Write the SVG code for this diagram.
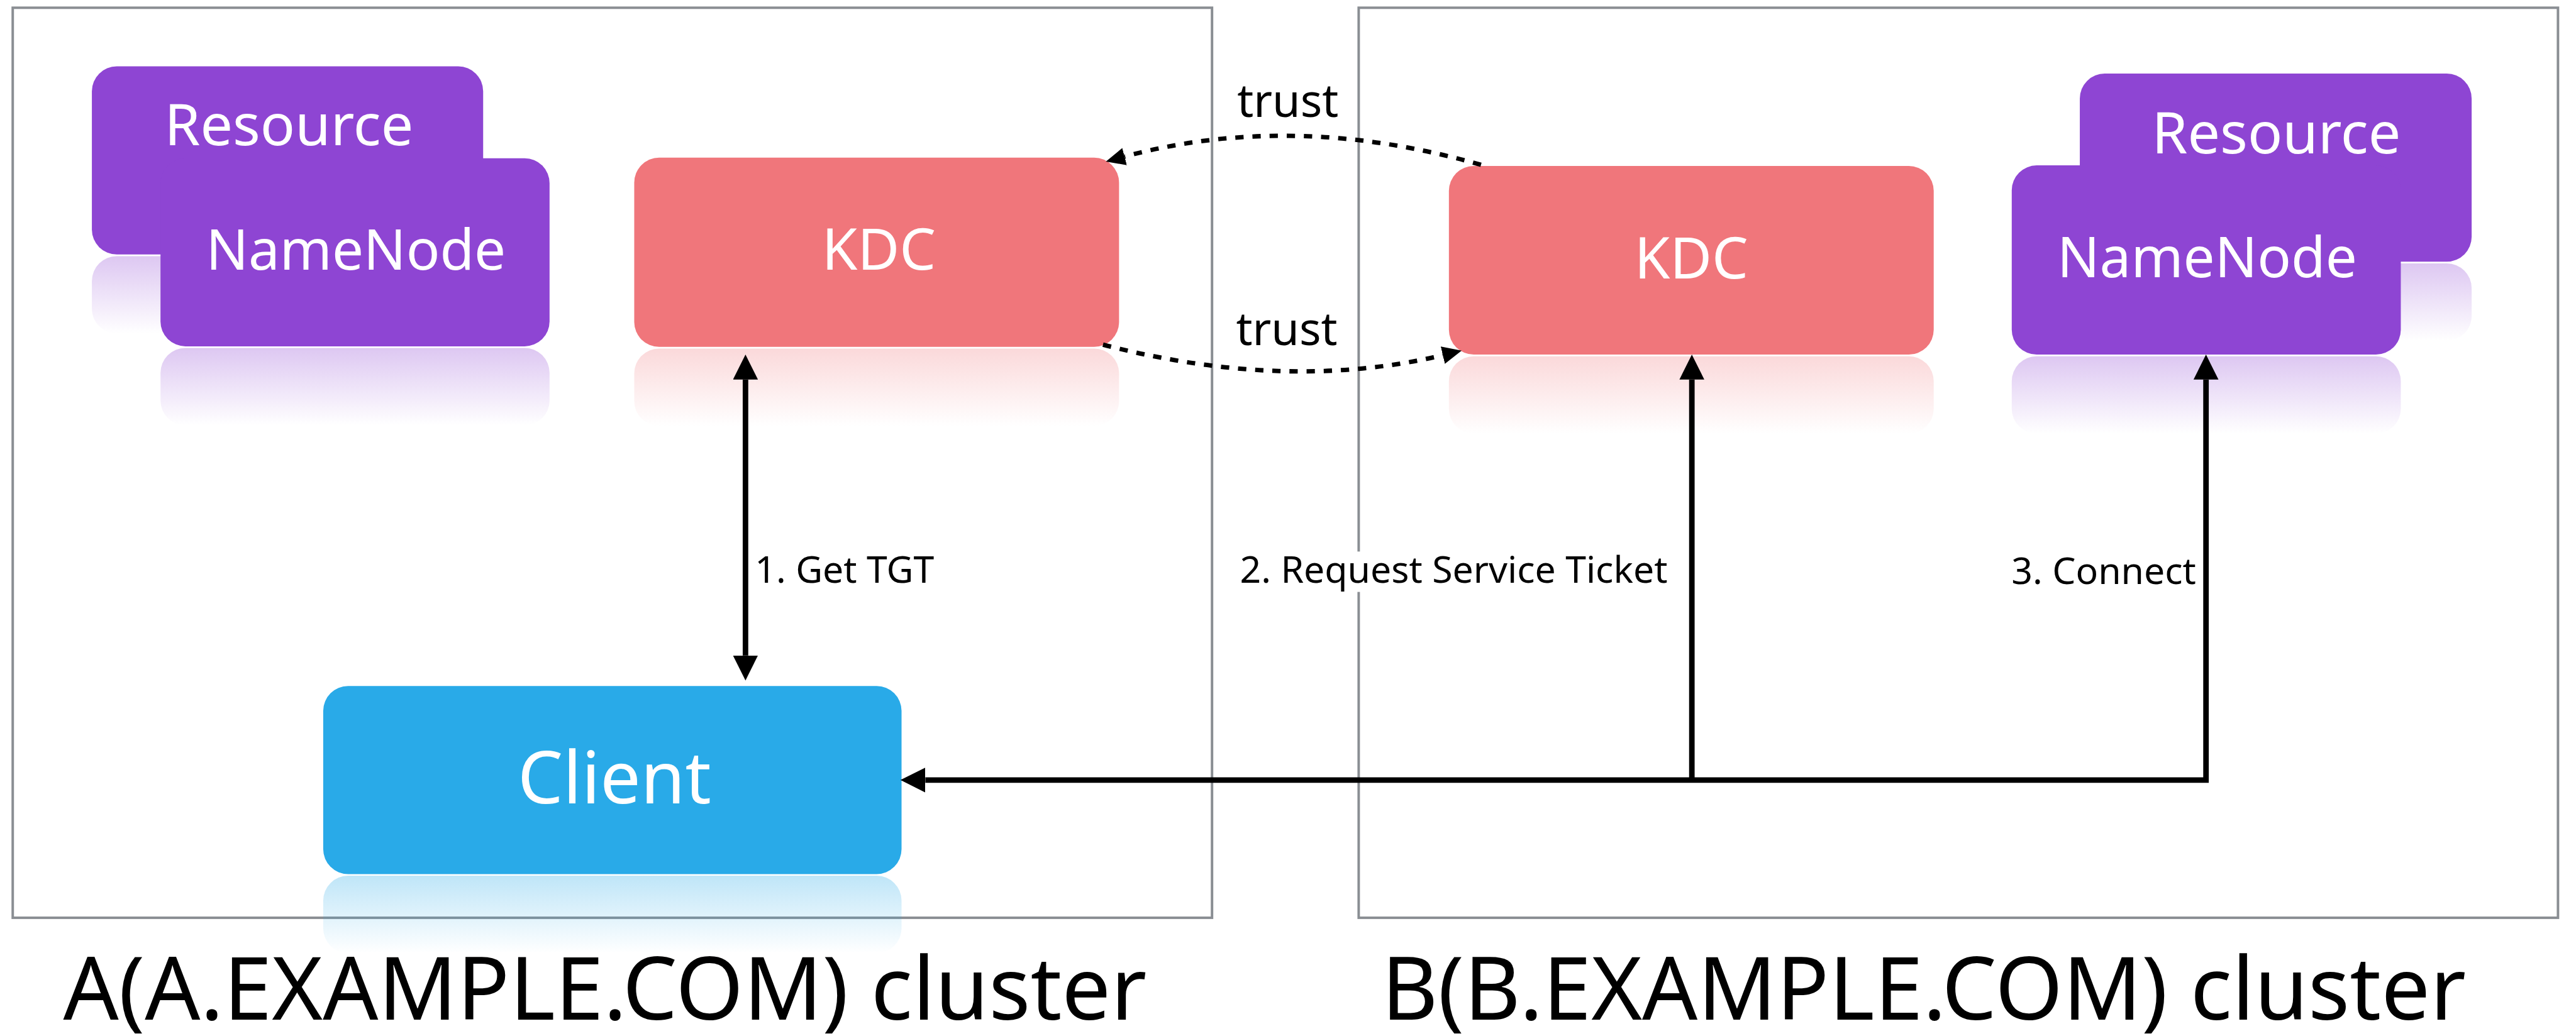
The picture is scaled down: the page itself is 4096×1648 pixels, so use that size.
<svg xmlns="http://www.w3.org/2000/svg" width="4096" height="1648" viewBox="0 0 4096 1648">
<style>
.cluster{fill:none;stroke:#8a8e93;stroke-width:4.5}
.purple{fill:#8e45d3}
.kdc{fill:#f0767b}
.client{fill:#29aae8}
.nt{font-family:"Noto Sans","Open Sans",sans-serif;fill:#ffffff;text-anchor:middle}
.lbl{font-family:"Noto Sans","Open Sans",sans-serif;fill:#000000;font-size:67px}
.title{font-family:"Noto Sans","Open Sans",sans-serif;fill:#000000;font-size:157px;text-anchor:middle}
.solid{fill:none;stroke:#000000;stroke-width:10;stroke-linejoin:miter}
.dash{fill:none;stroke:#000000;stroke-width:8;stroke-dasharray:15 16}
</style>
<defs>
<linearGradient id="gP" x1="0" y1="0" x2="0" y2="1"><stop offset="0" stop-color="#8e45d3" stop-opacity="0.3"/><stop offset="1" stop-color="#8e45d3" stop-opacity="0"/></linearGradient>
<linearGradient id="gK" x1="0" y1="0" x2="0" y2="1"><stop offset="0" stop-color="#f0767b" stop-opacity="0.28"/><stop offset="1" stop-color="#f0767b" stop-opacity="0"/></linearGradient>
<linearGradient id="gC" x1="0" y1="0" x2="0" y2="1"><stop offset="0" stop-color="#29aae8" stop-opacity="0.3"/><stop offset="1" stop-color="#29aae8" stop-opacity="0"/></linearGradient>
<marker id="ah" markerUnits="userSpaceOnUse" viewBox="0 0 46 46" markerWidth="46" markerHeight="46" refX="0" refY="22.5" orient="auto-start-reverse"><path d="M0,0 L45,22.5 L0,45 Z" fill="#000000"/></marker>
<marker id="ahd" markerUnits="userSpaceOnUse" viewBox="0 0 36 34" markerWidth="36" markerHeight="34" refX="0" refY="16" orient="auto"><path d="M0,0 L35,16 L0,32 Z" fill="#000000"/></marker>
</defs>
<g transform="scale(0.88)">
<rect width="4651" height="1871" fill="#ffffff"/>
<g id="cluster-a"><rect class="cluster" x="23" y="14" width="2167" height="1645"/><text class="title" x="1093" y="1843">A(A.EXAMPLE.COM) cluster</text></g>
<g id="cluster-b"><rect class="cluster" x="2455" y="14" width="2167" height="1645"/><text class="title" x="3476" y="1843">B(B.EXAMPLE.COM) cluster</text></g>

<g id="resource-a"><rect class="purple" x="166" y="120" width="707" height="340" rx="45"/><rect x="166" y="463" width="707" height="140" rx="45" fill="url(#gP)"/><text class="nt" x="522" y="263" font-size="104">Resource</text></g>
<g id="namenode-a"><rect class="purple" x="290" y="286" width="703" height="340" rx="45"/><rect x="290" y="629" width="703" height="140" rx="45" fill="url(#gP)"/><text class="nt" x="643" y="488" font-size="101">NameNode</text></g>
<g id="kdc-a"><rect class="kdc" x="1146" y="285" width="876" height="342" rx="45"/><rect x="1146" y="630" width="876" height="140" rx="45" fill="url(#gK)"/><text class="nt" x="1588" y="488" font-size="104">KDC</text></g>
<g id="client"><rect class="client" x="584" y="1240" width="1045" height="340" rx="45"/><rect x="584" y="1583" width="1045" height="140" rx="45" fill="url(#gC)"/><text class="nt" x="1110" y="1452" font-size="130">Client</text></g>
<g id="kdc-b"><rect class="kdc" x="2618" y="300" width="876" height="341" rx="45"/><rect x="2618" y="644" width="876" height="140" rx="45" fill="url(#gK)"/><text class="nt" x="3056" y="503" font-size="104">KDC</text></g>
<g id="resource-b"><rect class="purple" x="3758" y="133" width="708" height="340" rx="45"/><rect x="3758" y="476" width="708" height="140" rx="45" fill="url(#gP)"/><text class="nt" x="4113" y="277" font-size="104">Resource</text></g>
<g id="namenode-b"><rect class="purple" x="3635" y="299" width="703" height="342" rx="45"/><rect x="3635" y="644" width="703" height="140" rx="45" fill="url(#gP)"/><text class="nt" x="3988" y="501" font-size="101">NameNode</text></g>

<g id="connectors">
<path class="solid" d="M1347,686 L1347,1185" marker-start="url(#ah)" marker-end="url(#ah)"/>
<path class="solid" d="M1672,1410 L3986,1410 L3986,686" marker-start="url(#ah)" marker-end="url(#ah)"/>
<path class="solid" d="M3057,1410 L3057,686" marker-end="url(#ah)"/>
<path class="dash" d="M2676,298 Q2337,201 2032,283" marker-end="url(#ahd)"/>
<path class="dash" d="M1993,623 Q2326,709 2607,642" marker-end="url(#ahd)"/>
<text class="lbl" x="2327" y="211" style="font-size:82px" text-anchor="middle">trust</text>
<text class="lbl" x="2325" y="624" style="font-size:82px" text-anchor="middle">trust</text>
<text class="lbl" x="1364" y="1053">1. Get TGT</text>
<rect x="2222" y="997" width="795" height="73" fill="#ffffff"/>
<text class="lbl" x="3013" y="1053" text-anchor="end">2. Request Service Ticket</text>
<text class="lbl" x="3968" y="1056" text-anchor="end">3. Connect</text>
</g>
</g>
</svg>
